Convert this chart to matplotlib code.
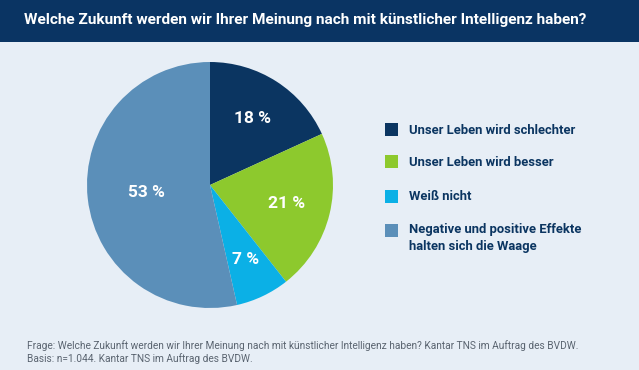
import numpy as np
import matplotlib
matplotlib.use("Agg")
import matplotlib.pyplot as plt
from matplotlib.patches import Rectangle

# Daten
kategorien = [
    "Unser Leben wird schlechter",
    "Unser Leben wird besser",
    "Weiß nicht",
    "Negative und positive Effekte\nhalten sich die Waage",
]
werte = [18, 21, 7, 53]
farben = ["#0b3561", "#8dc92d", "#0bb0e6", "#5b8fb9"]
label_radius = [0.64, 0.64, 0.67, 0.52]

titel = "Welche Zukunft werden wir Ihrer Meinung nach mit künstlicher Intelligenz haben?"
fussnote = ("Frage: Welche Zukunft werden wir Ihrer Meinung nach mit künstlicher Intelligenz haben? "
            "Kantar TNS im Auftrag des BVDW.\nBasis: n=1.044. Kantar TNS im Auftrag des BVDW.")

W, H = 639, 370
fig = plt.figure(figsize=(W / 100, H / 100), dpi=100)
fig.patch.set_facecolor("#e7eef6")

# Titelbalken
fig.add_artist(Rectangle((0, 1 - 42 / H), 1, 42 / H, transform=fig.transFigure,
                         facecolor="#0a3463", edgecolor="none", zorder=0))
fig.text(24 / W, 1 - 20 / H, titel, color="white", fontsize=11.1, fontweight="bold",
         family=["Liberation Sans Narrow", "Roboto", "DejaVu Sans"], va="center", ha="left")

# Kreisdiagramm
ax = fig.add_axes([87 / W, (H - 308) / H, 246 / W, 246 / H])
ax.pie(werte, colors=farben, startangle=90, counterclock=False, radius=1,
       wedgeprops=dict(linewidth=0))
ax.set_xlim(-1, 1)
ax.set_ylim(-1, 1)
ax.set_aspect("equal")
ax.axis("off")

kum = np.cumsum([0] + werte[:-1])
for w, k, r in zip(werte, kum, label_radius):
    winkel = np.deg2rad(90 - (k + w / 2) / sum(werte) * 360)
    ax.text(r * np.cos(winkel), r * np.sin(winkel), f"{w} %", color="white",
            fontsize=12.5, fontweight="semibold", family=["Roboto", "DejaVu Sans"],
            ha="center", va="center")

# Legende
zeilen_y = [130, 162, 197, 231]
for kat, farbe, y in zip(kategorien, farben, zeilen_y):
    fig.add_artist(Rectangle((385 / W, 1 - (y + 6) / H), 13 / W, 13 / H,
                             transform=fig.transFigure, facecolor=farbe, edgecolor="none"))
    if "\n" in kat:
        fig.text(409 / W, 1 - (y - 8) / H, kat, color="#0b3561", fontsize=9.4,
                 fontweight="semibold", family=["Roboto", "DejaVu Sans"], va="top",
                 ha="left", linespacing=1.45)
    else:
        fig.text(409 / W, 1 - y / H, kat, color="#0b3561", fontsize=9.4,
                 fontweight="semibold", family=["Roboto", "DejaVu Sans"], va="center",
                 ha="left")

# Fußnote
fig.text(27 / W, 1 - 340 / H, fussnote, color="#5a6470", fontsize=7.3,
         family=["Roboto", "DejaVu Sans"], va="top", ha="left", linespacing=1.2)

fig.savefig("out.png", dpi=100, facecolor=fig.get_facecolor())
